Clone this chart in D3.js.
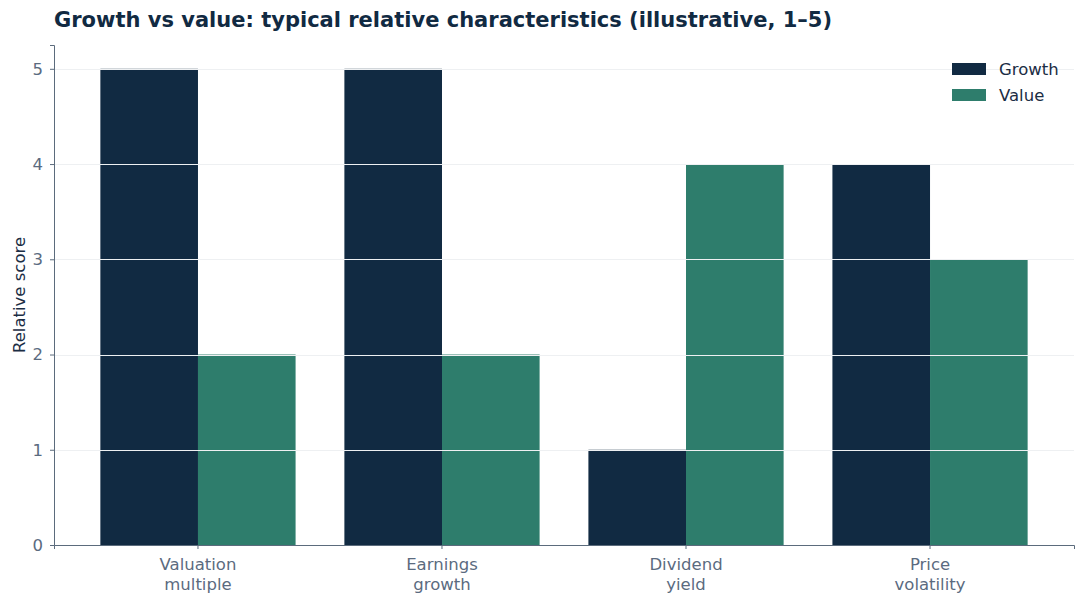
<!DOCTYPE html>
<html>
<head>
<meta charset="utf-8">
<script src="https://cdn.jsdelivr.net/npm/d3@7"></script>
<style>
  body { margin: 0; background: #fff; }
  svg { font-family: "DejaVu Sans", sans-serif; }
</style>
</head>
<body>
<div class="chart"></div>
<script>
const categories = [["Valuation", "multiple"], ["Earnings", "growth"], ["Dividend", "yield"], ["Price", "volatility"]];
const seriesNames = ["Growth", "Value"];
const growth = [5, 5, 1, 4];
const value = [2, 2, 4, 3];
const yTicks = [0, 1, 2, 3, 4, 5];
const colors = ["#112a42", "#2e7d6c"];

const width = 1084;
const height = 604;
const plotLeft = 54, plotRight = 1074, plotTop = 45, plotBottom = 545;

const svg = d3.select('.chart')
    .append('svg')
    .attr('width', width)
    .attr('height', height);

const keys = categories.map((c, i) => i);
const x = d3.scaleBand()
    .domain(keys)
    .range([plotLeft, plotRight])
    .paddingInner(0.2)
    .paddingOuter(0.19);

const xs = d3.scaleBand()
    .domain(seriesNames)
    .range([0, x.bandwidth()]);

const y = d3.scaleLinear()
    .domain([0, 5.25])
    .range([plotBottom, plotTop]);

const rows = keys.map(i => ({i: i, vals: [growth[i], value[i]]}));

// bars
svg.selectAll("g.group")
    .data(rows)
    .enter()
    .append("g")
    .attr("class", "group")
    .attr("transform", d => `translate(${x(d.i)},0)`)
    .selectAll("rect")
    .data(d => d.vals.map((v, k) => ({name: seriesNames[k], v: v, k: k})))
    .enter()
    .append("rect")
    .attr("x", d => xs(d.name))
    .attr("y", d => y(d.v))
    .attr("width", xs.bandwidth())
    .attr("height", d => y(0) - y(d.v))
    .attr("fill", d => colors[d.k]);

// gridlines on top of bars
svg.selectAll("line.grid")
    .data(yTicks.filter(t => t > 0))
    .enter()
    .append("line")
    .attr("class", "grid")
    .attr("x1", plotLeft)
    .attr("x2", plotRight)
    .attr("y1", d => Math.round(y(d)) + 0.5)
    .attr("y2", d => Math.round(y(d)) + 0.5)
    .attr("stroke", "#eef0f2")
    .attr("stroke-width", 1);

// y axis
const yAxis = svg.append("g")
    .attr("transform", `translate(${plotLeft},0)`)
    .call(d3.axisLeft(y).tickValues(yTicks).tickFormat(d3.format("d")).tickSize(4).tickPadding(7));
yAxis.select(".domain").attr("stroke", "#5b6b7c");
yAxis.selectAll(".tick line").attr("stroke", "#5b6b7c");
yAxis.selectAll(".tick text")
    .attr("fill", "#5b6b7f")
    .attr("font-size", 16.5)
    .attr("font-family", "DejaVu Sans");

// x axis
const xAxis = svg.append("g")
    .attr("transform", `translate(0,${plotBottom})`)
    .call(d3.axisBottom(x).tickSize(4).tickFormat(""));
xAxis.select(".domain").attr("stroke", "#5b6b7c");
xAxis.selectAll(".tick line").attr("stroke", "#5b6b7c");

svg.selectAll("text.xlabel")
    .data(keys)
    .enter()
    .append("text")
    .attr("class", "xlabel")
    .attr("x", d => x(d) + x.bandwidth() / 2)
    .attr("y", plotBottom + 24.5)
    .attr("text-anchor", "middle")
    .attr("font-size", 16.5)
    .attr("fill", "#5b6b7f")
    .selectAll("tspan")
    .data(d => categories[d])
    .enter()
    .append("tspan")
    .attr("x", function() { return d3.select(this.parentNode).attr("x"); })
    .attr("dy", (d, j) => j === 0 ? 0 : 20)
    .text(d => d);

// y label
svg.append("text")
    .attr("transform", `translate(25,${(plotTop + plotBottom) / 2}) rotate(-90)`)
    .attr("text-anchor", "middle")
    .attr("font-size", 16.5)
    .attr("fill", "#1b2d44")
    .text("Relative score");

// title
svg.append("text")
    .attr("x", 54)
    .attr("y", 27)
    .attr("font-size", 21)
    .attr("font-weight", "bold")
    .attr("fill", "#112a42")
    .text("Growth vs value: typical relative characteristics (illustrative, 1\u20135)");

// legend
const legend = svg.selectAll("g.legend")
    .data(seriesNames)
    .enter()
    .append("g")
    .attr("class", "legend")
    .attr("transform", (d, i) => `translate(952,${63 + i * 26})`);
legend.append("rect")
    .attr("width", 34)
    .attr("height", 12)
    .attr("fill", (d, i) => colors[i]);
legend.append("text")
    .attr("x", 47)
    .attr("y", 12)
    .attr("font-size", 16.5)
    .attr("fill", "#1b2d44")
    .text(d => d);
</script>
</body>
</html>
